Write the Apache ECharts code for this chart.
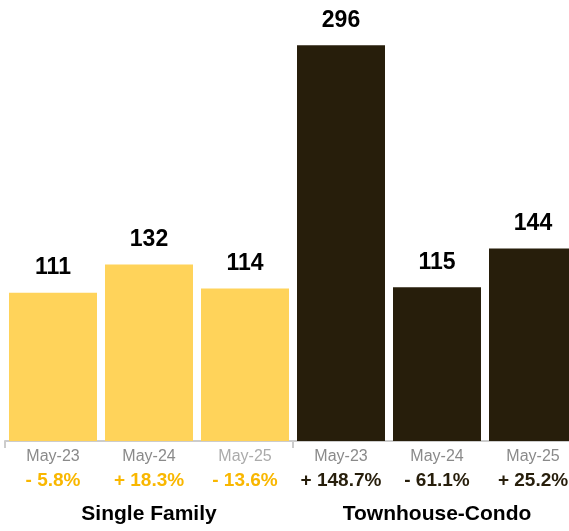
<!DOCTYPE html>
<html>
<head>
<meta charset="utf-8">
<script src="https://cdn.jsdelivr.net/npm/echarts@6/dist/echarts.min.js"></script>
<style>
  html, body { margin: 0; padding: 0; background: #fff; }
  #chart { width: 569px; height: 531px; }
</style>
</head>
<body>
<div id="chart"></div>
<script>
// Sales counts by property type, three May snapshots each
const months = ['May-23', 'May-24', 'May-25', 'May-23', 'May-24', 'May-25'];
const groupOf = [0, 0, 0, 1, 1, 1];
const values = [111, 132, 114, 296, 115, 144];
const changes = ['- 5.8%', '+ 18.3%', '- 13.6%', '+ 148.7%', '- 61.1%', '+ 25.2%'];
const groups = ['Single Family', 'Townhouse-Condo'];

const barColors = ['#FFD35A', '#271E0B'];
const changeColors = ['#F9B700', '#271E0B'];
const font = "'Liberation Sans', Arial, Helvetica, sans-serif";

// unique keys so repeated month names stay separate categories
const keys = months.map((m, i) => groups[groupOf[i]] + ' ' + m);

const chart = echarts.init(document.getElementById('chart'));
chart.setOption({
  animation: false,
  // plot runs a little past the right edge of the canvas
  grid: { left: 5, top: 40, width: 576, height: 401, outerBoundsMode: 'none', containLabel: false },
  xAxis: [
    {
      type: 'category',
      data: keys,
      axisLine: { lineStyle: { color: '#cccccc', width: 2 } },
      axisTick: {
        show: true,
        length: 7,
        interval: (i) => i % 3 === 0,
        lineStyle: { color: '#cccccc', width: 2 }
      },
      axisLabel: {
        interval: 0,
        margin: 5,
        fontFamily: font,
        formatter: (v, i) => {
          const d = i === 2 ? 'd2' : 'd';
          const p = groupOf[i] === 0 ? 'p1' : 'p2';
          return '{' + d + '|' + months[i] + '}\n{' + p + '|' + changes[i] + '}';
        },
        rich: {
          d: { fontSize: 16, color: '#8a8a8a', lineHeight: 22, fontFamily: font },
          d2: { fontSize: 16, color: '#ababab', lineHeight: 22, fontFamily: font },
          p1: { fontSize: 19, fontWeight: 'bold', color: changeColors[0], lineHeight: 26, fontFamily: font },
          p2: { fontSize: 19, fontWeight: 'bold', color: changeColors[1], lineHeight: 26, fontFamily: font }
        }
      }
    },
    {
      type: 'category',
      data: groups,
      position: 'bottom',
      axisLine: { show: false },
      axisTick: { show: false },
      axisLabel: {
        interval: 0,
        margin: 61,
        fontSize: 21,
        lineHeight: 24,
        fontWeight: 'bold',
        color: '#000',
        fontFamily: font
      }
    }
  ],
  yAxis: {
    type: 'value',
    min: 0,
    max: 300,
    show: false,
    splitLine: { show: false }
  },
  series: [
    {
      type: 'bar',
      xAxisIndex: 0,
      barWidth: 88,
      data: values.map((v, i) => ({ value: v, itemStyle: { color: barColors[groupOf[i]] } })),
      label: {
        show: true,
        position: 'top',
        distance: 13,
        fontSize: 23,
        fontWeight: 'bold',
        color: '#000',
        fontFamily: font
      }
    }
  ]
});
</script>
</body>
</html>
